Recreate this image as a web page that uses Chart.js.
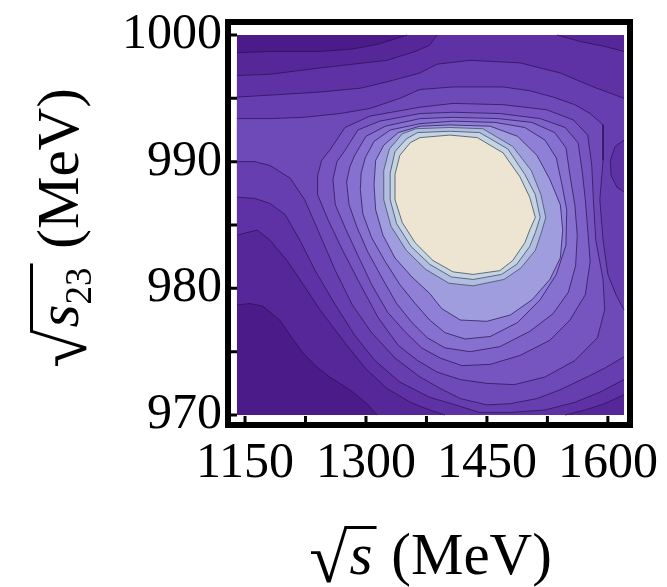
<!DOCTYPE html>
<html>
<head>
<meta charset="utf-8">
<script src="https://cdn.jsdelivr.net/npm/chart.js@4.4.1/dist/chart.umd.min.js"></script>
<style>
html, body { margin: 0; padding: 0; background: #fff; }
canvas { display: block; }
</style>
</head>
<body>
<canvas id="grafico" width="667" height="587"></canvas>
<script>
// eixos (MeV)
const xTicks = [1150, 1225, 1300, 1375, 1450, 1525, 1600];
const xLabels = [1150, 1300, 1450, 1600];
const yTicks = [970, 975, 980, 985, 990, 995, 1000];
const yLabels = [970, 980, 990, 1000];

// regioes de contorno (nivel >= k), pontos [sqrt(s), sqrt(s23)]
const contorno0 = [[1140,970],[1140,1000],[1620,1000],[1620,970]];
const contorno1 = [[1140,998.6],[1181,998.7],[1243,998.7],[1284,998.9],[1317,999.3],[1351,1000],[1620,1000],[1620,970],[1314,970],[1301,970.9],[1280,972],[1255,973],[1237,973.9],[1222,974.9],[1206,976.3],[1193,977.5],[1172,978.6],[1156,978.8],[1140,978.7]];
const contorno2 = [[1140,996.8],[1181,996.9],[1243,997.4],[1326,998],[1361,998.7],[1379,999.2],[1388,1000],[1537,1000],[1565,999.5],[1596,999.1],[1620,998.7],[1620,971.6],[1596,970.9],[1572,970.4],[1547,970],[1398,970],[1379,970.4],[1355,971],[1326,972.1],[1299,973.7],[1274,975.7],[1243,978.3],[1218,980.7],[1202,982.2],[1181,983.8],[1165,984.6],[1140,984.2]];
const contorno3 = [[1140,995.1],[1193,995.3],[1243,995.5],[1293,995.8],[1326,996.3],[1367,997],[1388,997.7],[1429,998],[1491,997.8],[1541,997],[1582,995.9],[1620,995],[1620,972.8],[1590,971.8],[1559,971],[1522,970.4],[1479,970.2],[1441,970.2],[1411,970.8],[1379,971.4],[1342,972.6],[1311,974.3],[1286,976.3],[1262,978.7],[1237,981.4],[1218,983.8],[1200,985.8],[1181,986.7],[1162,987.1],[1140,987.2]];
const bolsao = [[1620,991.7],[1609,991.2],[1603,990.1],[1604,988.9],[1611,988],[1620,987.6]];
const contorno4 = [[1140,993.4],[1181,993.4],[1222,993.5],[1268,993.8],[1305,994.2],[1342,995],[1367,995.7],[1408,995.9],[1470,995.9],[1503,995.6],[1532,995.1],[1559,994.5],[1578,993.8],[1594,992.9],[1594,990.1],[1590,987],[1594,983.8],[1600,981.1],[1610,979.5],[1620,978.3],[1620,974.6],[1596,973.7],[1574,973],[1541,972],[1512,971.3],[1479,970.9],[1450,970.8],[1417,971.3],[1392,972.1],[1367,973],[1336,974.5],[1307,976.5],[1283,978.7],[1262,981.4],[1243,984.2],[1224,987],[1206,988.7],[1181,989.7],[1162,990],[1140,990]];
const contorno5 = [[1255,990.9],[1274,992.7],[1305,993.6],[1367,994.3],[1408,994.6],[1470,994.5],[1524,994.1],[1557,993.3],[1575,992.1],[1580,989.7],[1582,987],[1585,983.8],[1594,980.7],[1596,978.3],[1587,976.1],[1559,974.3],[1522,973],[1484,972.4],[1450,972.5],[1417,972.8],[1388,973.4],[1364,974.3],[1340,975.5],[1315,977.7],[1293,980.3],[1271,983],[1253,985.4],[1240,987.4],[1240,988.9],[1245,990.1]];
const contorno6 = [[1274,990.9],[1290,992.5],[1317,993.2],[1367,993.8],[1408,993.9],[1466,993.8],[1516,993.4],[1547,992.7],[1563,991.5],[1568,989.3],[1572,987],[1575,984.6],[1578,982.1],[1572,979.5],[1553,977.5],[1528,975.9],[1491,974.7],[1454,974],[1419,973.9],[1392,974.5],[1369,975.3],[1348,976.6],[1327,978.1],[1307,980.3],[1290,982.6],[1274,984.8],[1262,986.6],[1259,988.6],[1264,990]];
const contorno7 = [[1286,990.5],[1300,992],[1324,992.8],[1367,993.4],[1408,993.5],[1464,993.4],[1506,993.1],[1534,992.3],[1548,991.1],[1553,988.9],[1559,986.6],[1562,984.2],[1560,981.8],[1551,979.7],[1532,978],[1503,976.6],[1466,975.4],[1429,975],[1398,975.3],[1376,976.1],[1357,977.3],[1338,978.8],[1321,980.7],[1302,982.9],[1289,984.8],[1279,986.6],[1276,988.4],[1280,989.6]];
const contorno8 = [[1299,990.3],[1310,991.6],[1330,992.5],[1367,993],[1408,993.2],[1460,993.1],[1497,992.7],[1522,991.7],[1536,990.3],[1543,988.2],[1549,986.2],[1548,983.4],[1536,981.1],[1516,979.1],[1488,977.3],[1454,976.2],[1423,976],[1398,976.5],[1379,977.5],[1361,978.8],[1342,980.3],[1324,982.1],[1307,984],[1296,985.9],[1293,987.8],[1294,989.1]];
const contorno9 = [[1312,990.1],[1322,991.3],[1340,992.3],[1367,992.8],[1404,992.9],[1454,992.8],[1488,992],[1512,990.5],[1528,988.6],[1541,986.6],[1544,984.6],[1541,982.4],[1528,980.7],[1506,979.1],[1479,977.9],[1450,977.4],[1417,977.5],[1394,978.4],[1379,979.6],[1357,980.9],[1336,982.4],[1321,984.2],[1312,986.2],[1310,988.2]];
const contorno10 = [[1329,991],[1345,992.2],[1362,992.6],[1404,992.7],[1445,992.6],[1482,991.2],[1505,989.3],[1517,987.4],[1523,985.6],[1517,984.3],[1510,983],[1492,981.6],[1471,980.7],[1433,980.2],[1403,980.4],[1374,981.5],[1350,983],[1331,984.9],[1322,987],[1322,989.3]];
const contorno11 = [[1336,990.8],[1350,991.8],[1364,992.3],[1404,992.4],[1441,992.3],[1476,991],[1497,989],[1510,987.4],[1516,985.6],[1510,984.4],[1503,983.3],[1487,981.9],[1468,981.1],[1433,980.7],[1406,980.9],[1379,981.9],[1356,983.3],[1338,985.1],[1330,987],[1330,989.1]];
const contorno12 = [[1355,991.5],[1367,991.9],[1404,992.1],[1438,991.9],[1470,990.7],[1491,988.8],[1503,987.2],[1510,985.6],[1503,984.6],[1497,983.6],[1482,982.2],[1466,981.4],[1433,981.1],[1408,981.3],[1383,982.2],[1361,983.6],[1345,985.2],[1336,987],[1336,989],[1342,990.5]];

const cores = ['#4b1b89', '#552799', '#5e32a5', '#663eaf', '#6e4ab8', '#7655c0', '#7e62c8',
               '#8670d0', '#8f7fd7', '#a09dde', '#b3bce2', '#c5d3e3', '#ede4d2'];

const contornos = [contorno0, contorno1, contorno2, contorno3, contorno4, contorno5, contorno6,
                   contorno7, contorno8, contorno9, contorno10, contorno11, contorno12];

const fonte = '"Liberation Serif", "DejaVu Serif", serif';

// lado do dominio: segmento sem linha
function naBorda(a, b) {
    return (a[0] === b[0] && (a[0] === 1140 || a[0] === 1620)) ||
           (a[1] === b[1] && (a[1] === 970 || a[1] === 1000));
}

// pedacos da fronteira que ficam dentro do dominio
function trechos(pts) {
    const fechado = pts.concat([pts[0]]);
    const runs = [];
    let atual = [];
    for (let i = 0; i < fechado.length - 1; i++) {
        const a = fechado[i], b = fechado[i + 1];
        if (naBorda(a, b)) {
            if (atual.length > 1) runs.push(atual);
            atual = [];
        } else {
            if (atual.length === 0) atual.push(a);
            atual.push(b);
        }
    }
    if (atual.length > 1) runs.push(atual);
    return runs;
}

function regiao(pts, cor, ordem) {
    return {
        data: pts.concat([pts[0]]).map(p => ({ x: p[0], y: p[1] })),
        showLine: true,
        fill: 'shape',
        backgroundColor: cor,
        borderColor: cor,
        borderWidth: 0,
        pointRadius: 0,
        tension: 0,
        order: ordem
    };
}

function linha(pts, cor) {
    return {
        data: pts.map(p => ({ x: p[0], y: p[1] })),
        showLine: true,
        fill: false,
        borderColor: cor,
        borderWidth: 1,
        pointRadius: 0,
        tension: 0,
        order: -1
    };
}

const datasets = [];
contornos.forEach((pts, k) => {
    datasets.push(regiao(pts, cores[k], 20 - k));
    if (k === 3) datasets.push(regiao(bolsao, cores[2], 16.5));
});
contornos.forEach((pts, k) => {
    const cor = k >= 10 ? 'rgba(70,90,105,0.85)' : 'rgba(38,16,78,0.7)';
    trechos(pts).forEach(t => datasets.push(linha(t, cor)));
});
trechos(bolsao).forEach(t => datasets.push(linha(t, 'rgba(38,16,78,0.7)')));

function tituloRaiz(ctx, variavel, sub) {
    const fRad = '70px ' + fonte;
    const fVar = 'italic 59px ' + fonte;
    const fSub = '37px ' + fonte;
    const fTxt = '59px ' + fonte;
    ctx.font = fRad;
    const mRad = ctx.measureText('\u221A');
    ctx.font = fVar;
    const wVar = ctx.measureText(variavel).width;
    ctx.font = fSub;
    const wSub = sub ? ctx.measureText(sub).width : 0;
    ctx.font = fTxt;
    const wTxt = ctx.measureText(' (MeV)').width;
    const total = mRad.width + wVar + wSub + 6 + wTxt;
    let x = -total / 2;
    ctx.textAlign = 'left';
    ctx.textBaseline = 'alphabetic';
    ctx.font = fRad;
    ctx.fillText('\u221A', x, 8);
    const topo = 8 - mRad.actualBoundingBoxAscent;
    x += mRad.width;
    const x1 = x;
    ctx.font = fVar;
    ctx.fillText(variavel, x + 2, 0);
    x += wVar + 2;
    if (sub) {
        ctx.font = fSub;
        ctx.fillText(sub, x, 13);
        x += wSub;
    }
    x += 4;
    ctx.fillRect(x1 - 3, topo, x - x1 + 3, 3);
    ctx.font = fTxt;
    ctx.fillText(' (MeV)', x, 0);
}

// moldura, ticks para dentro, rotulos e titulos
const eixos = {
    id: 'eixos',
    afterDraw(chart) {
        const ctx = chart.ctx;
        const xs = chart.scales.x;
        const ys = chart.scales.y;
        const a = chart.chartArea;
        ctx.save();
        ctx.strokeStyle = '#000';
        ctx.fillStyle = '#000';
        ctx.lineWidth = 6;
        ctx.strokeRect(a.left - 3, a.top - 3, a.right - a.left + 6, a.bottom - a.top + 6);

        ctx.lineWidth = 3;
        ctx.beginPath();
        yTicks.forEach(v => {
            const y = ys.getPixelForValue(v);
            ctx.moveTo(a.left, y);
            ctx.lineTo(a.left + 6, y);
        });
        xTicks.forEach(v => {
            const x = xs.getPixelForValue(v);
            ctx.moveTo(x, a.bottom);
            ctx.lineTo(x, a.bottom - 6);
        });
        ctx.stroke();

        ctx.font = '50px ' + fonte;
        ctx.textAlign = 'right';
        ctx.textBaseline = 'middle';
        yLabels.forEach(v => ctx.fillText(String(v), a.left - 9, ys.getPixelForValue(v)));
        ctx.textAlign = 'center';
        ctx.textBaseline = 'alphabetic';
        xLabels.forEach(v => ctx.fillText(String(v), xs.getPixelForValue(v), 477));

        // titulo x
        ctx.save();
        ctx.translate((xs.getPixelForValue(1140) + xs.getPixelForValue(1620)) / 2, 574);
        tituloRaiz(ctx, 's', null);
        ctx.restore();

        // titulo y
        ctx.save();
        ctx.translate(78, 228);
        ctx.rotate(-Math.PI / 2);
        tituloRaiz(ctx, 's', '23');
        ctx.restore();

        ctx.restore();
    }
};

new Chart(document.getElementById('grafico').getContext('2d'), {
    type: 'scatter',
    data: { datasets: datasets },
    options: {
        responsive: false,
        animation: false,
        events: [],
        layout: { padding: { left: 231, top: 25, right: 40, bottom: 165 } },
        scales: {
            x: { type: 'linear', min: 1132.6, max: 1623.7, display: false },
            y: { type: 'linear', min: 969.45, max: 1000.79, display: false }
        },
        plugins: {
            legend: { display: false },
            tooltip: { enabled: false }
        }
    },
    plugins: [eixos]
});
</script>
</body>
</html>
